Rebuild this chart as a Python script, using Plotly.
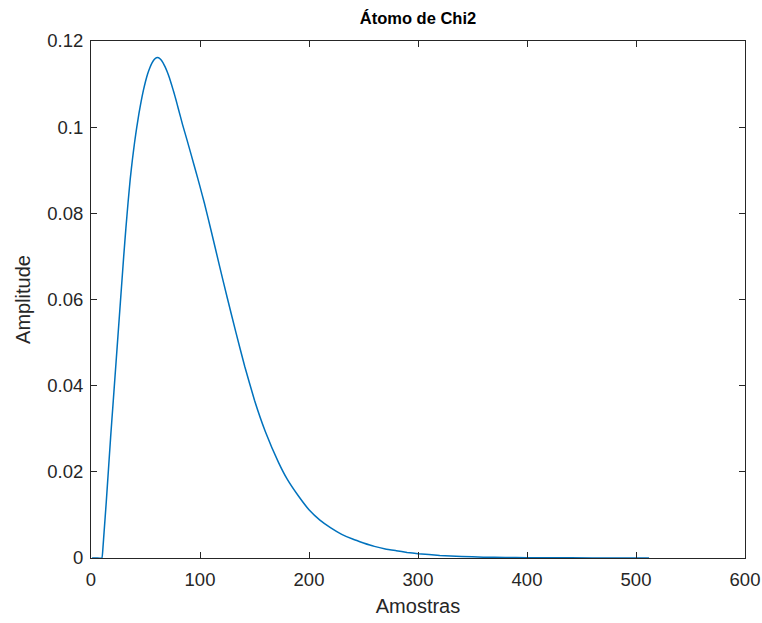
import plotly.graph_objects as go

# Values (sample index, amplitude)
amostras = [1, 5, 10, 11, 12, 14, 16, 18, 20, 22, 24, 26, 28, 30, 32, 34, 36, 38,
            40, 42, 44, 46, 48, 50, 52, 54, 56, 58, 60, 62, 64, 66, 68, 70, 72,
            74, 76, 78, 80, 84, 88, 92, 96, 100, 104, 110, 118, 125, 133, 141,
            150, 160, 172, 180, 190, 200, 210, 220, 230, 240, 250, 260, 270, 280,
            290, 300, 320, 340, 360, 380, 400, 440, 480, 512]
amplitude = [0, 0, 0, 0.0025, 0.006, 0.013, 0.0205, 0.028, 0.035, 0.042, 0.049,
             0.056, 0.063, 0.070, 0.0765, 0.0825, 0.088, 0.0925, 0.0965, 0.1000,
             0.1032, 0.1060, 0.1085, 0.1106, 0.1124, 0.1138, 0.1149, 0.1157,
             0.1161, 0.1161, 0.1157, 0.1150, 0.1140, 0.1128, 0.1114, 0.1098,
             0.1081, 0.1063, 0.1044, 0.1006, 0.0971, 0.0935, 0.0899, 0.0862,
             0.0824, 0.0762, 0.0677, 0.0604, 0.0523, 0.0445, 0.0366, 0.0293,
             0.0222, 0.0183, 0.0145, 0.0112, 0.0088, 0.0070, 0.0055, 0.0044,
             0.0035, 0.0027, 0.0021, 0.0017, 0.0013, 0.0010, 0.0006, 0.00035,
             0.0002, 0.00012, 0.00007, 0.00003, 0.00001, 0.000005]

x_ticks = [0, 100, 200, 300, 400, 500, 600]
y_ticks = [0, 0.02, 0.04, 0.06, 0.08, 0.1, 0.12]
y_tick_text = ["0", "0.02", "0.04", "0.06", "0.08", "0.1", "0.12"]

title_text = "Átomo de Chi2"
x_title = "Amostras"
y_title = "Amplitude"

axis_color = "#262626"
font_family = "Liberation Sans, Arial, sans-serif"

fig = go.Figure()
fig.add_trace(go.Scatter(
    x=amostras, y=amplitude, mode="lines",
    line=dict(color="#0072BD", width=1.5, shape="spline", smoothing=0.3),
    showlegend=False, hoverinfo="skip",
))

axis_common = dict(
    showline=True, linecolor=axis_color, linewidth=1, mirror="ticks",
    ticks="inside", ticklen=6, tickcolor=axis_color, tickwidth=1,
    showgrid=False, zeroline=False, automargin=False,
    tickfont=dict(family=font_family, size=18.5, color=axis_color),
)

fig.update_layout(
    width=762, height=623,
    margin=dict(l=91, r=17, t=41, b=65),
    paper_bgcolor="white", plot_bgcolor="white",
    title=dict(text="<b>" + title_text + "</b>", x=418 / 762, xanchor="center",
               y=1 - 18 / 623, yanchor="middle",
               font=dict(family=font_family, size=16.5, color="#000000")),
    xaxis=dict(range=[0, 600], tickvals=x_ticks, ticklabelstandoff=5,
               title=dict(text=x_title, standoff=9,
                          font=dict(family=font_family, size=20, color=axis_color)),
               **axis_common),
    yaxis=dict(range=[0, 0.12], tickvals=y_ticks, ticktext=y_tick_text,
               ticklabelstandoff=3,
               title=dict(text=y_title, standoff=11,
                          font=dict(family=font_family, size=20, color=axis_color)),
               **axis_common),
)

fig.write_html("out.html",
               config={"displayModeBar": False},
               post_script="document.body.style.margin='0';"
                           "document.body.style.overflow='hidden';")
